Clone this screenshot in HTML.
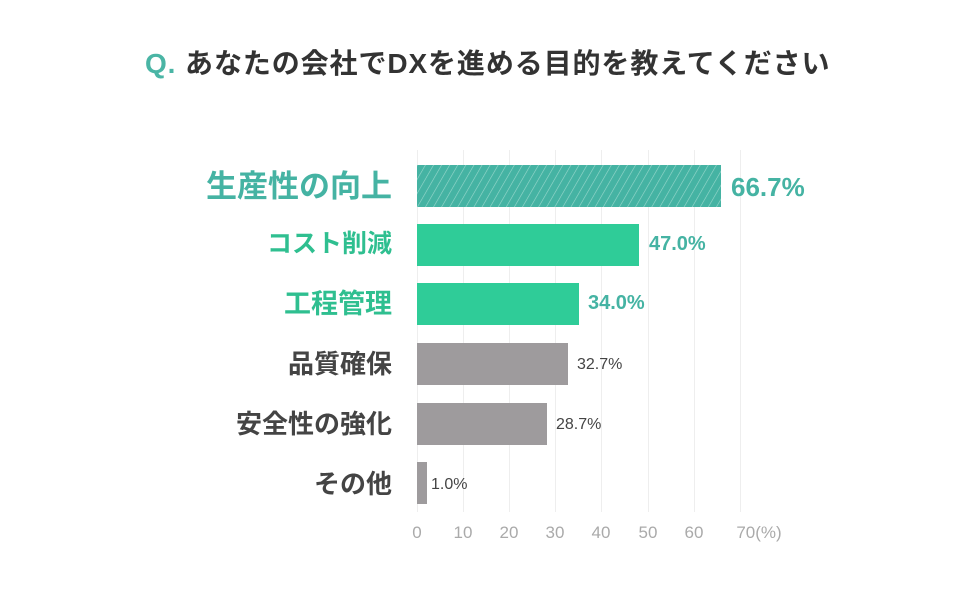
<!DOCTYPE html>
<html><head><meta charset="utf-8"><style>
body{margin:0;width:976px;height:604px;background:#fff;position:relative;overflow:hidden;font-family:"Liberation Sans","Noto Sans CJK JP",sans-serif}
.t{position:absolute;white-space:nowrap}
.g{position:absolute;top:150px;height:362px;width:1px;background:#eee}
.bar{position:absolute;left:417px;height:42px}
.lab{position:absolute;right:584px;font-weight:bold;text-align:right;white-space:nowrap;line-height:1}
.val{position:absolute;font-weight:bold;white-space:nowrap}
.tk{position:absolute;top:523px;font-size:17px;color:#aaa;transform:translateX(-50%)}
</style></head><body>
<div class="t" style="left:145px;top:42px;font-size:28px;letter-spacing:0.9px;font-weight:bold;color:#333"><span style="color:#4ab5a5">Q.</span> あなたの会社でDXを進める目的を教えてください</div>
<div class="g" style="left:417px"></div><div class="g" style="left:463px"></div><div class="g" style="left:509px"></div><div class="g" style="left:555px"></div><div class="g" style="left:601px"></div><div class="g" style="left:648px"></div><div class="g" style="left:694px"></div><div class="g" style="left:740px"></div>
<svg style="position:absolute;left:417px;top:165px" width="304" height="42"><defs><pattern id="h" width="7" height="7" patternUnits="userSpaceOnUse" patternTransform="rotate(30)"><rect width="7" height="7" fill="#45b3a3"/><line x1="0" y1="0" x2="0" y2="7" stroke="#9ad8cd" stroke-width="1.2"/></pattern></defs><rect width="304" height="42" fill="url(#h)"/></svg>
<div class="bar" style="top:224px;width:222px;background:#2fcc98"></div>
<div class="bar" style="top:283px;width:162px;background:#2fcc98"></div>
<div class="bar" style="top:343px;width:151px;background:#9e9b9d"></div>
<div class="bar" style="top:403px;width:130px;background:#9e9b9d"></div>
<div class="bar" style="top:462px;width:10px;background:#9e9b9d"></div>
<div class="lab" style="top:171px;font-size:31px;color:#45b3a3">生産性の向上</div>
<div class="lab" style="top:232px;font-size:25px;color:#2fbf90">コスト削減</div>
<div class="lab" style="top:291px;font-size:27px;color:#2fbf90">工程管理</div>
<div class="lab" style="top:351px;font-size:26px;color:#444">品質確保</div>
<div class="lab" style="top:411px;font-size:26px;color:#444">安全性の強化</div>
<div class="lab" style="top:471px;font-size:26px;color:#444">その他</div>
<div class="val" style="left:731px;top:172px;font-size:26px;color:#45b3a3">66.7%</div>
<div class="val" style="left:649px;top:233px;font-size:20px;color:#45b3a3">47.0%</div>
<div class="val" style="left:588px;top:292px;font-size:20px;color:#45b3a3">34.0%</div>
<div class="val" style="left:577px;top:356px;font-size:16px;font-weight:normal;color:#444">32.7%</div>
<div class="val" style="left:556px;top:416px;font-size:16px;font-weight:normal;color:#444">28.7%</div>
<div class="val" style="left:431px;top:476px;font-size:16px;font-weight:normal;color:#444">1.0%</div>
<div class="tk" style="left:417px">0</div><div class="tk" style="left:463px">10</div><div class="tk" style="left:509px">20</div><div class="tk" style="left:555px">30</div><div class="tk" style="left:601px">40</div><div class="tk" style="left:648px">50</div><div class="tk" style="left:694px">60</div><div class="tk" style="left:759px">70(%)</div>
</body></html>
